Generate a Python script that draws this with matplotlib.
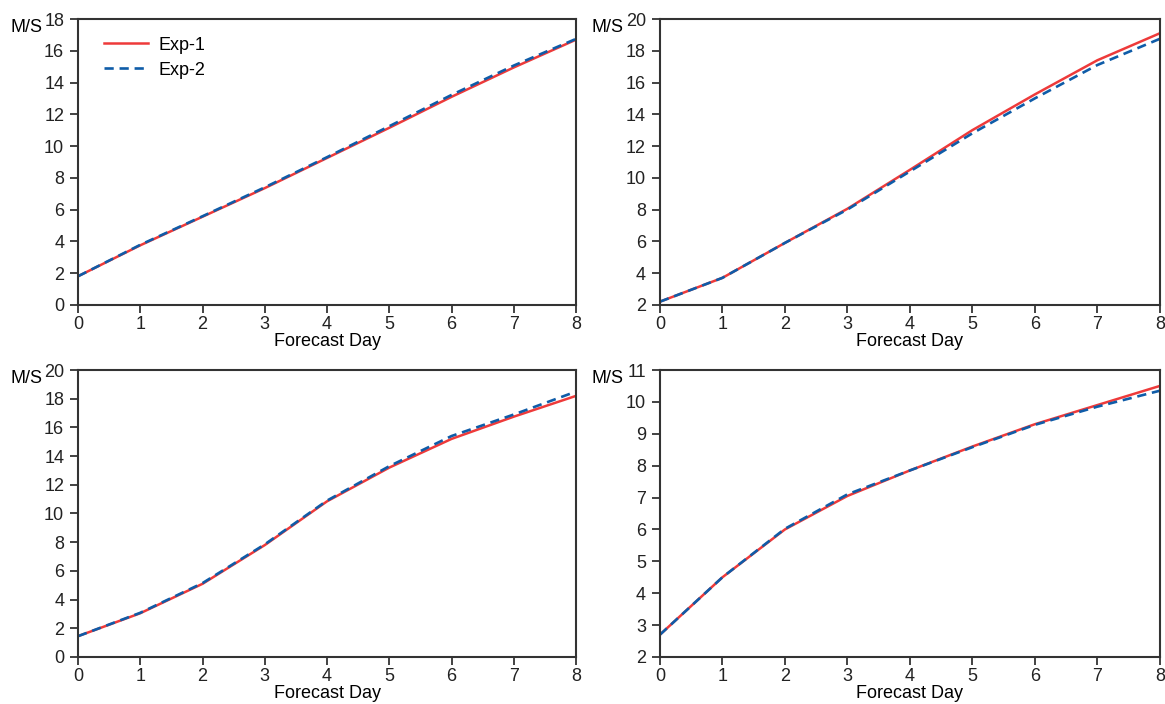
import matplotlib
matplotlib.use("Agg")
import matplotlib.pyplot as plt

plt.rcParams["font.family"] = ["Liberation Sans", "DejaVu Sans"]

days = [0, 1, 2, 3, 4, 5, 6, 7, 8]

# panel values (M/S)
tl_exp1 = [1.8, 3.75, 5.55, 7.35, 9.25, 11.15, 13.1, 14.95, 16.7]
tl_exp2 = [1.8, 3.78, 5.58, 7.4, 9.3, 11.25, 13.22, 15.07, 16.75]
tr_exp1 = [2.2, 3.7, 5.9, 8.05, 10.5, 13.0, 15.25, 17.4, 19.1]
tr_exp2 = [2.2, 3.7, 5.9, 8.0, 10.4, 12.8, 15.0, 17.1, 18.75]
bl_exp1 = [1.45, 3.05, 5.1, 7.8, 10.85, 13.2, 15.2, 16.75, 18.2]
bl_exp2 = [1.45, 3.08, 5.15, 7.85, 10.9, 13.3, 15.4, 16.9, 18.5]
br_exp1 = [2.7, 4.5, 6.0, 7.05, 7.85, 8.6, 9.3, 9.9, 10.5]
br_exp2 = [2.7, 4.5, 6.02, 7.1, 7.85, 8.58, 9.28, 9.85, 10.35]

panels = [
    (tl_exp1, tl_exp2, (0, 18), range(0, 19, 2)),
    (tr_exp1, tr_exp2, (2, 20), range(2, 21, 2)),
    (bl_exp1, bl_exp2, (0, 20), range(0, 21, 2)),
    (br_exp1, br_exp2, (2, 11), range(2, 12, 1)),
]

positions = [
    [0.067, 0.567, 0.4275, 0.406],
    [0.5665, 0.567, 0.429, 0.406],
    [0.067, 0.0668, 0.4275, 0.4076],
    [0.5665, 0.0668, 0.429, 0.4076],
]

red = "#ee3a3a"
blue = "#0f5ca8"

fig = plt.figure(figsize=(11.65, 7.04), dpi=100)

for i, ((e1, e2, ylim, yt), pos) in enumerate(zip(panels, positions)):
    ax = fig.add_axes(pos)
    ax.plot(days, e1, color=red, lw=1.8, label="Exp-1")
    ax.plot(days, e2, color=blue, lw=1.9, ls=(0, (3.5, 2.2)), label="Exp-2")
    ax.set_xlim(0, 8)
    ax.set_ylim(*ylim)
    ax.set_xticks(days)
    ax.set_yticks(list(yt))
    ax.tick_params(direction="out", length=6, width=1.2, labelsize=13,
                   colors="#222222")
    ax.tick_params(axis="y", pad=4)
    ax.tick_params(axis="x", pad=2)
    for s in ax.spines.values():
        s.set_linewidth(1.5)
        s.set_color("#333333")
    ax.set_xlabel("Forecast Day", fontsize=13, labelpad=0)
    ax.text(-0.072, 0.97, "M/S", transform=ax.transAxes, ha="right",
            va="center", fontsize=13)
    if i == 0:
        ax.legend(loc="upper left", frameon=False, fontsize=13,
                  bbox_to_anchor=(0.02, 0.995), handlelength=2.4,
                  handletextpad=0.6, labelspacing=0.45)

fig.savefig("out.png", dpi=100)
